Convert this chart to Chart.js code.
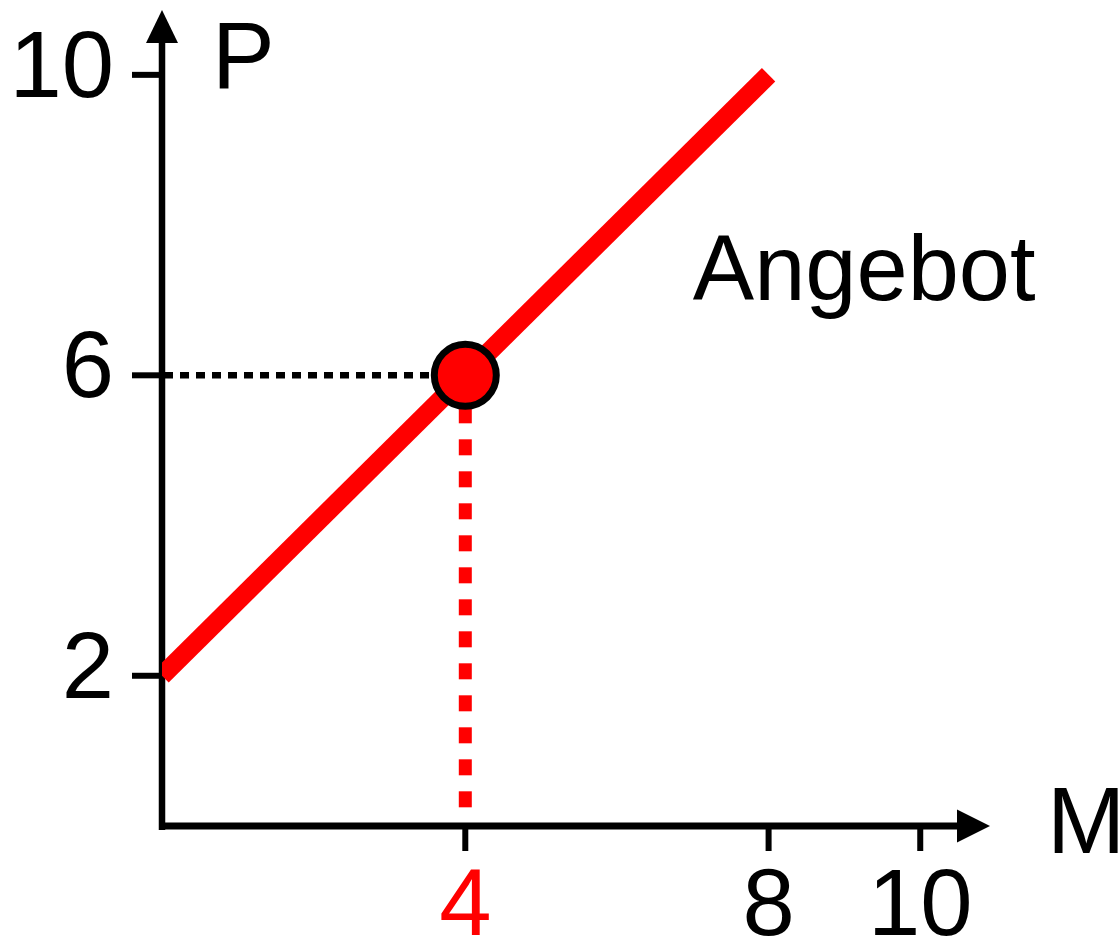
<!DOCTYPE html>
<html lang="de">
<head>
    <meta charset="UTF-8">
    <title>Angebot</title>
    <style>
        body { margin: 0; background: #fff; }
        #myChart { display: block; }
    </style>
    <script src="https://cdn.jsdelivr.net/npm/chart.js"></script>
</head>
<body>
    <canvas id="myChart" width="1118" height="942"></canvas>
    <script>
        // values
        const supplyQty = [0, 8];
        const supplyPrice = [2, 10];
        const equilibrium = [4, 6];          // [M, P]
        const xTicks = [4, 8, 10];
        const xTickLabels = ['4', '8', '10'];
        const yTicks = [2, 6, 10];
        const yTickLabels = ['2', '6', '10'];
        const xTitle = 'M';
        const yTitle = 'P';
        const curveLabel = 'Angebot';
        const curveLabelAt = [7, 7];

        const RED = '#ff0000';
        const FONT = '"Liberation Sans", Arial, sans-serif';

        const axesPlugin = {
            id: 'axes',
            beforeDatasetsDraw(chart) {
                const ctx = chart.ctx;
                const x = chart.scales.x, y = chart.scales.y;
                const x0 = x.getPixelForValue(0), y0 = y.getPixelForValue(0);
                const top = y.top - 1;
                ctx.save();
                ctx.strokeStyle = '#000';
                ctx.fillStyle = '#000';
                // vertical axis with arrow
                ctx.lineWidth = 6.5;
                ctx.beginPath();
                ctx.moveTo(x0, y0 + 4);
                ctx.lineTo(x0, top + 30);
                ctx.stroke();
                ctx.beginPath();
                ctx.moveTo(x0, top);
                ctx.lineTo(x0 - 16, top + 33);
                ctx.lineTo(x0 + 16, top + 33);
                ctx.closePath();
                ctx.fill();
                // ticks + labels
                ctx.lineWidth = 6;
                ctx.font = '94px ' + FONT;
                ctx.textAlign = 'right';
                ctx.textBaseline = 'alphabetic';
                yTicks.forEach((v, i) => {
                    const py = y.getPixelForValue(v);
                    ctx.beginPath();
                    ctx.moveTo(x0 - 30, py);
                    ctx.lineTo(x0, py);
                    ctx.stroke();
                    ctx.fillText(yTickLabels[i], x0 - 48, py + 22);
                });
                // axis title P
                ctx.textAlign = 'left';
                ctx.fillText(yTitle, x0 + 50, top + 78);
                // curve label
                ctx.font = '92px ' + FONT;
                ctx.fillText(curveLabel, x.getPixelForValue(curveLabelAt[0]), y.getPixelForValue(curveLabelAt[1]));
                ctx.restore();
            },
            afterDatasetsDraw(chart) {
                const ctx = chart.ctx;
                const x = chart.scales.x, y = chart.scales.y;
                const x0 = x.getPixelForValue(0), y0 = y.getPixelForValue(0);
                const tip = x.right;
                ctx.save();
                ctx.strokeStyle = '#000';
                ctx.fillStyle = '#000';
                ctx.lineWidth = 7;
                ctx.beginPath();
                ctx.moveTo(x0 - 3, y0);
                ctx.lineTo(tip - 30, y0);
                ctx.stroke();
                ctx.beginPath();
                ctx.moveTo(tip, y0);
                ctx.lineTo(tip - 33, y0 - 16.5);
                ctx.lineTo(tip - 33, y0 + 16.5);
                ctx.closePath();
                ctx.fill();
                ctx.lineWidth = 6;
                ctx.font = '94px ' + FONT;
                ctx.textAlign = 'center';
                ctx.textBaseline = 'alphabetic';
                xTicks.forEach((v, i) => {
                    const px = x.getPixelForValue(v);
                    ctx.beginPath();
                    ctx.moveTo(px, y0);
                    ctx.lineTo(px, y0 + 25);
                    ctx.stroke();
                    ctx.fillStyle = v === equilibrium[0] ? RED : '#000';
                    ctx.fillText(xTickLabels[i], px, y0 + 109);
                });
                ctx.fillStyle = '#000';
                ctx.textAlign = 'left';
                ctx.fillText(xTitle, tip + 57, y0 + 27);
                ctx.restore();
            }
        };

        const ctx = document.getElementById('myChart').getContext('2d');
        const myChart = new Chart(ctx, {
            type: 'scatter',
            data: {
                datasets: [
                    {
                        label: 'Gleichgewicht',
                        data: [{ x: equilibrium[0], y: equilibrium[1] }],
                        pointRadius: 31,
                        pointHoverRadius: 31,
                        pointBackgroundColor: RED,
                        pointBorderColor: '#000',
                        pointBorderWidth: 7,
                        order: 0
                    },
                    {
                        label: curveLabel,
                        data: supplyQty.map((m, i) => ({ x: m, y: supplyPrice[i] })),
                        showLine: true,
                        borderColor: RED,
                        borderWidth: 19,
                        borderCapStyle: 'butt',
                        pointRadius: 0,
                        order: 1
                    },
                    {
                        label: 'P-Linie',
                        data: [{ x: 0, y: equilibrium[1] }, { x: equilibrium[0], y: equilibrium[1] }],
                        showLine: true,
                        borderColor: '#000',
                        borderWidth: 6.5,
                        borderDash: [9, 7],
                        borderDashOffset: -2,
                        borderCapStyle: 'butt',
                        pointRadius: 0,
                        order: 2
                    },
                    {
                        label: 'M-Linie',
                        data: [{ x: equilibrium[0], y: equilibrium[1] }, { x: equilibrium[0], y: 0 }],
                        showLine: true,
                        borderColor: RED,
                        borderWidth: 13,
                        borderDash: [16, 16],
                        borderCapStyle: 'butt',
                        pointRadius: 0,
                        order: 2
                    }
                ]
            },
            options: {
                responsive: false,
                animation: false,
                events: [],
                layout: {
                    autoPadding: false,
                    padding: { left: 162, right: 128, top: 11, bottom: 116 }
                },
                scales: {
                    x: { type: 'linear', min: 0, max: 10.92, display: false },
                    y: { type: 'linear', min: 0, max: 10.85, display: false }
                },
                plugins: {
                    legend: { display: false },
                    tooltip: { enabled: false }
                }
            },
            plugins: [axesPlugin]
        });
    </script>
</body>
</html>
